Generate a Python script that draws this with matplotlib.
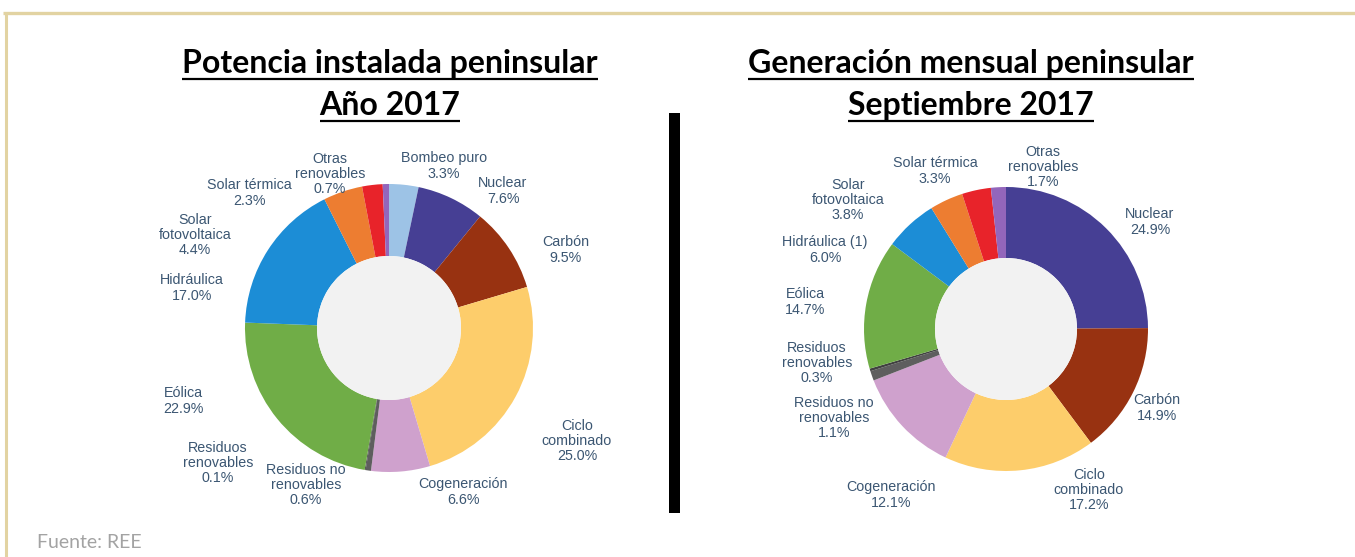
"""
Potencia instalada vs. generación mensual peninsular (REE, 2017)
"""
import matplotlib
matplotlib.use('Agg')
import matplotlib.pyplot as plt
from matplotlib.patches import Circle, Rectangle

W, H = 1355, 557

# ── datos ─────────────────────────────────────────────────────────
pot_labels = ['Bombeo puro', 'Nuclear', 'Carbón', 'Ciclo\ncombinado', 'Cogeneración',
              'Residuos no\nrenovables', 'Residuos\nrenovables', 'Eólica', 'Hidráulica',
              'Solar\nfotovoltaica', 'Solar térmica', 'Otras\nrenovables']
pot_values = [3.3, 7.6, 9.5, 25.0, 6.6, 0.6, 0.1, 22.9, 17.0, 4.4, 2.3, 0.7]

gen_labels = ['Nuclear', 'Carbón', 'Ciclo\ncombinado', 'Cogeneración',
              'Residuos no\nrenovables', 'Residuos\nrenovables', 'Eólica', 'Hidráulica (1)',
              'Solar\nfotovoltaica', 'Solar térmica', 'Otras\nrenovables']
gen_values = [24.9, 14.9, 17.2, 12.1, 1.1, 0.3, 14.7, 6.0, 3.8, 3.3, 1.7]

# ── estilo ────────────────────────────────────────────────────────
COLORS = {
    'Bombeo puro': '#9dc3e6', 'Nuclear': '#463f94', 'Carbón': '#983211',
    'Ciclo combinado': '#fdcd6b', 'Cogeneración': '#cfa1cd',
    'Residuos no renovables': '#5e5e5e', 'Residuos renovables': '#404040',
    'Eólica': '#70ad47', 'Hidráulica': '#1c8dd6', 'Hidráulica (1)': '#1c8dd6',
    'Solar fotovoltaica': '#ed7d31', 'Solar térmica': '#e8232a',
    'Otras renovables': '#9366bb',
}
LBL = '#3b5672'
HOLE = '#f2f2f2'
BEIGE = '#e2d3a2'

# posiciones (px, desde arriba) de cada etiqueta
pot_pos = [(444, 166), (503, 191), (566, 250), (577, 441), (463, 492), (306, 485),
           (218, 463), (183, 401), (192, 288), (195, 235), (249, 193), (330, 174)]
gen_pos = [(1150, 222), (1157, 408), (1089, 490), (891, 495), (834, 418), (817, 363),
           (805, 302), (825, 250), (848, 200), (935, 171), (1043, 167)]

fig = plt.figure(figsize=(W/100, H/100), dpi=100, facecolor='white')
ax = fig.add_axes([0, 0, 1, 1])


def donut(values, labels, positions, cx, cy, r):
    cols = [COLORS[l.replace('\n', ' ')] for l in labels]
    ax.pie(values, colors=cols, startangle=90, counterclock=False, radius=r,
           center=(cx, H - cy), wedgeprops=dict(width=r/2, linewidth=0))
    ax.add_patch(Circle((cx, H - cy), r/2, facecolor=HOLE, edgecolor='none', zorder=3))
    for lab, val, (x, y) in zip(labels, values, positions):
        ax.text(x, H - y, f'{lab}\n{val:.1f}%', ha='center', va='center', fontsize=10.3,
                color=LBL, linespacing=1.12, family='Liberation Sans')


donut(pot_values, pot_labels, pot_pos, 389, 328, 144)
donut(gen_values, gen_labels, gen_pos, 1006, 329, 142)

ax.set_xlim(0, W); ax.set_ylim(0, H); ax.set_aspect('equal')
ax.axis('off')

# títulos subrayados
titles = [('Potencia instalada peninsular', 390, 73), ('Año 2017', 390, 115),
          ('Generación mensual peninsular', 971, 73), ('Septiembre 2017', 971, 115)]
tobjs = []
for txt, x, y in titles:
    t = ax.text(x, H - y, txt, ha='center', va='baseline', fontsize=23,
                fontweight='bold', color='black', family='Lato')
    tobjs.append((t, y))
fig.canvas.draw()
rend = fig.canvas.get_renderer()
for t, y in tobjs:
    bb = t.get_window_extent(renderer=rend)
    ax.plot([bb.x0, bb.x1], [H - y - 6, H - y - 6], color='black', lw=1.6,
            solid_capstyle='butt')

# separador central
ax.add_patch(Rectangle((669, H - 513), 11, 400, facecolor='black', edgecolor='none'))

# marco beige
ax.plot([3, W], [H - 13, H - 13], color=BEIGE, lw=2.4, solid_capstyle='butt')
ax.plot([6, 6], [H - 13, 0], color=BEIGE, lw=2.2, solid_capstyle='butt')

ax.text(37, H - 543, 'Fuente: REE', ha='left', va='center', fontsize=14,
        color='#a3a3a3', family='Lato')

fig.savefig('out.png', dpi=100, facecolor='white')
plt.close()
